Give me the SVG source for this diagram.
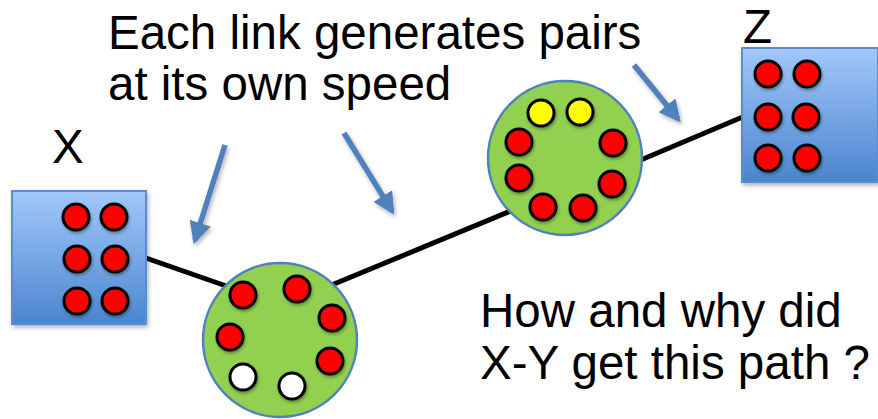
<svg xmlns="http://www.w3.org/2000/svg" width="878" height="419" viewBox="0 0 878 419">
  <style>
    .lbl { font-family: "Liberation Sans", Arial, sans-serif; font-size: 47.5px; fill: #000; }
    .box { fill: url(#boxGrad); stroke: #5a8dcf; stroke-width: 2; filter: url(#shadow); }
    .hub { fill: #92d050; stroke: #4f81bd; stroke-width: 2.5; }
    .dot { stroke: #000; stroke-width: 3; filter: url(#dotShadow); }
    .red { fill: #ff0000; }
    .yel { fill: #ffff00; }
    .wht { fill: #ffffff; }
    .link { stroke: #000; stroke-width: 5; fill: none; }
    .pointer { stroke: #4f81bd; stroke-width: 5.5; fill: none; marker-end: url(#head); filter: url(#shadow); }
  </style>
  <defs>
    <linearGradient id="boxGrad" x1="0" y1="0" x2="0" y2="1">
      <stop offset="0" stop-color="#a3c8fa"/>
      <stop offset="1" stop-color="#4a85cf"/>
    </linearGradient>
    <filter id="shadow" x="-20%" y="-20%" width="140%" height="140%">
      <feDropShadow dx="1.5" dy="2.5" stdDeviation="2" flood-color="#000" flood-opacity="0.3"/>
    </filter>
    <filter id="dotShadow" x="-30%" y="-30%" width="160%" height="160%">
      <feDropShadow dx="1" dy="2" stdDeviation="1.5" flood-color="#000" flood-opacity="0.35"/>
    </filter>
    <marker id="head" markerWidth="4" markerHeight="4" refX="3.2" refY="2" orient="auto" markerUnits="strokeWidth" viewBox="0 0 4 4">
      <path d="M0,0 L4,2 L0,4 Z" fill="#4f81bd"/>
    </marker>
  </defs>

  <!-- path links -->
  <g id="links">
    <line class="link" x1="140" y1="256" x2="232" y2="288"/>
    <line class="link" x1="322" y1="289" x2="518" y2="208"/>
    <line class="link" x1="636" y1="162" x2="745" y2="116"/>
  </g>

  <!-- end node X -->
  <g id="node-x">
    <rect class="box" x="12" y="191" width="134" height="133"/>
    <circle class="dot red" cx="76" cy="217" r="13"/>
    <circle class="dot red" cx="114" cy="217" r="13"/>
    <circle class="dot red" cx="77" cy="259" r="13"/>
    <circle class="dot red" cx="115" cy="259" r="13"/>
    <circle class="dot red" cx="77" cy="301" r="13"/>
    <circle class="dot red" cx="115" cy="301" r="13"/>
    <text class="lbl" x="52" y="163">X</text>
  </g>

  <!-- end node Z -->
  <g id="node-z">
    <rect class="box" x="742" y="48" width="136" height="134"/>
    <circle class="dot red" cx="768" cy="74" r="13"/>
    <circle class="dot red" cx="807" cy="74" r="13"/>
    <circle class="dot red" cx="768" cy="117" r="13"/>
    <circle class="dot red" cx="806" cy="117" r="13"/>
    <circle class="dot red" cx="768" cy="158" r="13"/>
    <circle class="dot red" cx="807" cy="158" r="13"/>
    <text class="lbl" x="743" y="43">Z</text>
  </g>

  <!-- lower repeater -->
  <g id="repeater-1">
    <circle class="hub" cx="280" cy="340" r="77"/>
    <circle class="dot red" cx="243" cy="295" r="13"/>
    <circle class="dot red" cx="297" cy="289" r="13"/>
    <circle class="dot red" cx="332" cy="318" r="13"/>
    <circle class="dot red" cx="230" cy="337" r="13"/>
    <circle class="dot red" cx="330" cy="361" r="13"/>
    <circle class="dot wht" cx="243" cy="377" r="13"/>
    <circle class="dot wht" cx="292" cy="386" r="13"/>
  </g>

  <!-- upper repeater -->
  <g id="repeater-2">
    <circle class="hub" cx="565" cy="158" r="77"/>
    <circle class="dot yel" cx="541" cy="113" r="13"/>
    <circle class="dot yel" cx="580" cy="112" r="13"/>
    <circle class="dot red" cx="519" cy="142" r="13"/>
    <circle class="dot red" cx="613" cy="143" r="13"/>
    <circle class="dot red" cx="519" cy="178" r="13"/>
    <circle class="dot red" cx="612" cy="184" r="13"/>
    <circle class="dot red" cx="543" cy="207" r="13"/>
    <circle class="dot red" cx="583" cy="208" r="13"/>
  </g>

  <!-- callout arrows -->
  <g id="pointers">
    <line class="pointer" x1="225" y1="145" x2="195" y2="240"/>
    <line class="pointer" x1="344" y1="133" x2="392" y2="211"/>
    <line class="pointer" x1="634" y1="65" x2="678" y2="119"/>
  </g>

  <!-- captions -->
  <g id="captions">
    <text class="lbl" x="108" y="49">Each link generates pairs</text>
    <text class="lbl" x="108" y="100">at its own speed</text>
    <text class="lbl" x="480" y="327">How and why did</text>
    <text class="lbl" x="480" y="379">X-Y get this path ?</text>
  </g>
</svg>
